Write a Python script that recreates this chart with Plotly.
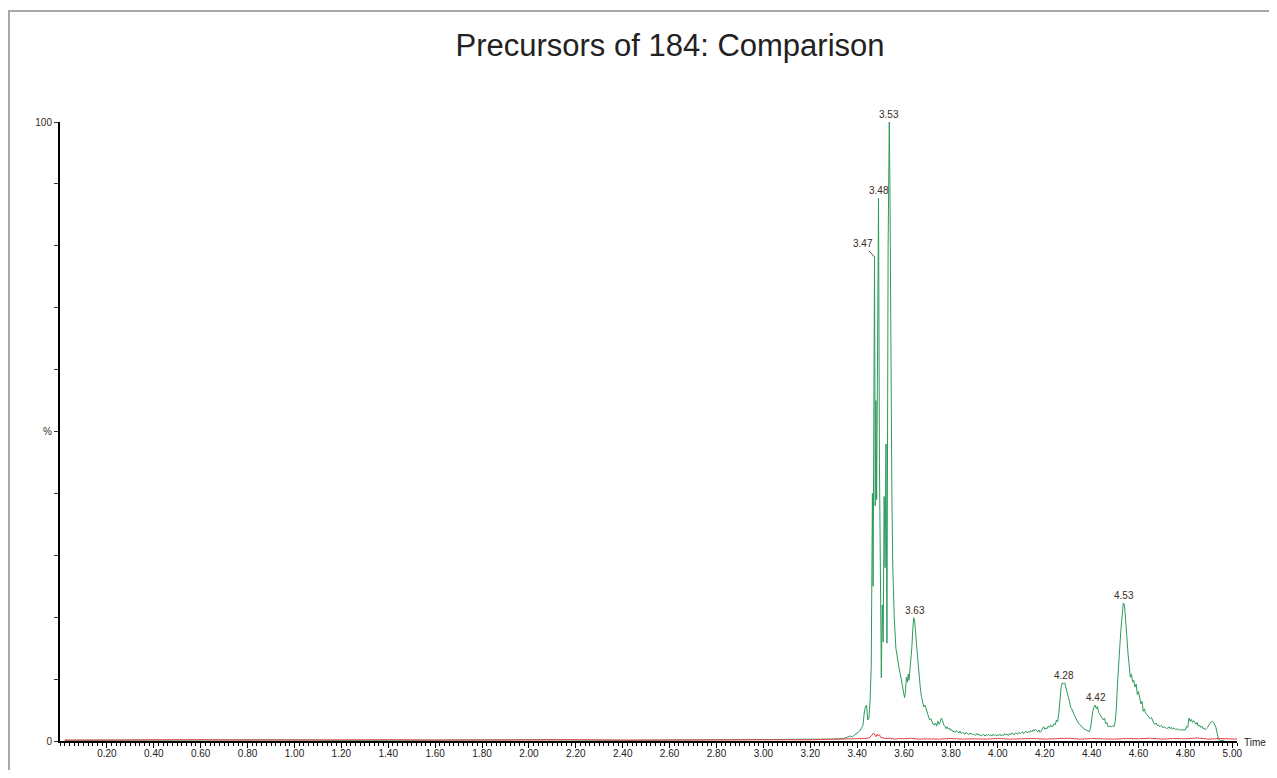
import plotly.graph_objects as go

# ---------------- data ----------------
green_time = [
    0.02, 0.30, 0.60, 0.90, 1.20, 1.50, 1.80, 2.10, 2.40, 2.70, 3.00, 3.10, 3.20, 3.25,
    3.30, 3.31, 3.32, 3.33, 3.34, 3.35, 3.36, 3.37, 3.38, 3.39, 3.40, 3.41, 3.42, 3.425,
    3.43, 3.435, 3.44, 3.445, 3.45, 3.455, 3.46, 3.465, 3.468, 3.471, 3.474, 3.477, 3.480,
    3.483, 3.487, 3.491, 3.495, 3.499, 3.503, 3.507, 3.511, 3.515, 3.519, 3.523, 3.527,
    3.532, 3.537, 3.540, 3.544, 3.548, 3.552, 3.558, 3.565, 3.572, 3.580, 3.588, 3.595,
    3.602, 3.606, 3.610, 3.614, 3.618, 3.621, 3.625, 3.629, 3.633, 3.637, 3.641, 3.645,
    3.649, 3.654, 3.659, 3.664, 3.669, 3.674, 3.679, 3.684, 3.689, 3.694, 3.699, 3.704,
    3.709, 3.714, 3.719, 3.724, 3.729, 3.734, 3.739, 3.744, 3.749, 3.754, 3.759, 3.764,
    3.769, 3.774, 3.779, 3.784, 3.789, 3.794, 3.799, 3.804, 3.809, 3.814, 3.819, 3.824,
    3.829, 3.834, 3.839, 3.844, 3.849, 3.854, 3.86, 3.865, 3.87, 3.875, 3.88, 3.885, 3.89,
    3.895, 3.90, 3.905, 3.91, 3.915, 3.92, 3.925, 3.93, 3.935, 3.94, 3.945, 3.95, 3.955,
    3.96, 3.965, 3.97, 3.975, 3.98, 3.985, 3.99, 3.995, 4.00, 4.005, 4.01, 4.015, 4.02,
    4.025, 4.03, 4.035, 4.04, 4.045, 4.05, 4.055, 4.06, 4.065, 4.07, 4.075, 4.08, 4.085,
    4.09, 4.095, 4.10, 4.105, 4.11, 4.115, 4.12, 4.125, 4.13, 4.135, 4.14, 4.145, 4.15,
    4.155, 4.16, 4.165, 4.17, 4.175, 4.18, 4.185, 4.19, 4.195, 4.20, 4.205, 4.21, 4.215,
    4.22, 4.225, 4.23, 4.235, 4.24, 4.245, 4.25, 4.255, 4.26, 4.265, 4.27, 4.275, 4.28,
    4.285, 4.29, 4.295, 4.30, 4.305, 4.31, 4.315, 4.32, 4.325, 4.33, 4.335, 4.34, 4.345,
    4.35, 4.355, 4.36, 4.365, 4.37, 4.375, 4.38, 4.385, 4.39, 4.395, 4.40, 4.405, 4.41,
    4.415, 4.42, 4.425, 4.43, 4.435, 4.44, 4.445, 4.45, 4.455, 4.46, 4.465, 4.47, 4.475,
    4.48, 4.485, 4.49, 4.495, 4.50, 4.505, 4.51, 4.515, 4.52, 4.525, 4.53, 4.535, 4.54,
    4.545, 4.55, 4.555, 4.56, 4.565, 4.57, 4.575, 4.58, 4.585, 4.59, 4.595, 4.60, 4.605,
    4.61, 4.615, 4.62, 4.625, 4.63, 4.635, 4.64, 4.645, 4.65, 4.655, 4.66, 4.665, 4.67,
    4.675, 4.68, 4.685, 4.69, 4.695, 4.70, 4.705, 4.71, 4.715, 4.72, 4.725, 4.73, 4.735,
    4.74, 4.745, 4.75, 4.755, 4.76, 4.765, 4.77, 4.775, 4.78, 4.785, 4.79, 4.795, 4.80,
    4.805, 4.81, 4.815, 4.82, 4.825, 4.83, 4.835, 4.84, 4.845, 4.85, 4.855, 4.86, 4.865,
    4.87, 4.875, 4.88, 4.885, 4.89, 4.895, 4.90, 4.905, 4.91, 4.915, 4.92, 4.925, 4.93,
    4.935, 4.94, 4.945, 4.95, 4.955, 4.96, 4.965, 4.97, 4.98, 4.99, 5.00,
]
green_pct = [
    0.1, 0.15, 0.1, 0.2, 0.1, 0.15, 0.1, 0.2, 0.1, 0.15, 0.2, 0.15, 0.25, 0.2,
    0.3, 0.35, 0.3, 0.45, 0.35, 0.5, 0.6, 0.8, 0.7, 1.0, 1.3, 1.6, 2.2, 2.6,
    4.5, 5.5, 5.8, 3.4, 3.6, 6.5, 12.0, 40.0, 25.0, 72.0, 78.2, 38.0, 55.0,
    39.0, 60.0, 87.7, 45.0, 18.0, 10.2, 22.0, 16.0, 39.5, 28.0, 48.0, 15.8,
    80.0, 100.0, 88.0, 60.0, 40.0, 28.0, 20.0, 15.0, 13.0, 11.5, 10.0, 8.5,
    7.0, 8.0, 10.3, 9.5, 10.8, 9.8, 11.5, 12.0, 15.0, 18.0, 19.9, 19.5,
    18.0, 15.2, 13.0, 10.5, 8.7, 7.2, 6.0, 5.5, 5.8, 5.2, 4.4, 3.9,
    3.4, 3.6, 3.0, 2.7, 2.6, 2.9, 2.4, 3.2, 2.7, 3.0, 3.7, 3.3,
    2.6, 2.4, 2.0, 2.3, 1.9, 2.1, 1.7, 1.8, 1.5, 1.6, 1.4, 1.7,
    1.5, 1.3, 1.6, 1.2, 1.4, 1.3, 1.1, 1.4, 1.2, 1.0, 1.3, 1.1, 1.2,
    1.0, 1.1, 0.9, 1.2, 1.0, 1.1, 0.8, 1.0, 0.9, 1.1, 0.8, 1.0, 0.9,
    1.1, 0.9, 1.0, 0.8, 1.1, 0.9, 1.0, 0.8, 1.0, 0.9, 1.1, 0.8, 1.0,
    0.9, 1.2, 1.0, 1.1, 0.9, 1.2, 1.0, 1.3, 1.1, 1.0, 1.3, 1.2, 1.1,
    1.4, 1.2, 1.3, 1.5, 1.2, 1.4, 1.6, 1.3, 1.5, 1.4, 1.7, 1.5, 1.8,
    1.6, 1.9, 1.7, 1.5, 1.8, 1.4, 1.6, 2.0, 2.3, 1.9, 2.1, 2.0, 2.4,
    2.2, 2.6, 2.3, 2.4, 2.8, 2.6, 3.4, 3.1, 4.5, 7.0, 8.7, 9.4, 9.2,
    9.4, 8.5, 7.8, 7.2, 6.5, 5.5, 5.2, 4.6, 4.3, 3.9, 3.5, 3.2, 2.8,
    2.6, 2.5, 2.3, 2.0, 1.9, 1.8, 1.7, 1.6, 1.5, 2.0, 3.9, 4.8, 5.5,
    5.8, 5.2, 5.6, 4.6, 4.2, 4.0, 3.7, 3.4, 3.7, 2.8, 3.0, 2.3, 2.4,
    2.4, 2.3, 2.5, 2.3, 3.0, 5.0, 9.0, 13.0, 15.2, 18.0, 20.5, 22.3, 22.0,
    20.0, 17.0, 14.2, 12.5, 10.3, 10.8, 9.5, 9.8, 8.7, 9.2, 7.5, 8.0, 6.6,
    6.0, 6.4, 4.8, 5.2, 4.5, 4.3, 4.0, 3.7, 3.6, 3.8, 3.2, 2.9, 2.7,
    2.9, 2.5, 2.6, 2.3, 2.5, 2.4, 2.1, 2.3, 2.2, 2.0, 2.1, 2.3, 2.0,
    2.2, 1.9, 2.1, 2.0, 1.8, 2.0, 1.8, 1.9, 1.7, 1.8, 1.8, 1.7, 1.8,
    2.4, 2.2, 3.7, 3.2, 3.5, 3.0, 3.3, 2.9, 2.7, 3.0, 2.4, 2.6, 2.2,
    2.4, 2.0, 2.1, 1.8, 2.0, 2.2, 2.6, 2.9, 3.1, 3.2, 3.0, 2.6, 2.2,
    1.3, 0.4, 0.1, 0.1, 0.1, 0.1, 0.1,
]

red_time = [
    0.02, 0.20, 0.40, 0.60, 0.80, 1.00, 1.20, 1.40, 1.60, 1.80, 2.00, 2.20, 2.40, 2.60,
    2.80, 3.00, 3.20, 3.30, 3.35, 3.40, 3.43, 3.45, 3.46, 3.47, 3.475, 3.48, 3.485, 3.49,
    3.495, 3.50, 3.51, 3.52, 3.54, 3.56, 3.58, 3.60, 3.63, 3.66, 3.70, 3.75, 3.80, 3.85,
    3.90, 3.95, 4.00, 4.05, 4.10, 4.15, 4.20, 4.25, 4.30, 4.35, 4.40, 4.45, 4.50, 4.55,
    4.60, 4.65, 4.70, 4.75, 4.80, 4.85, 4.90, 4.95, 5.00, 5.02,
]
red_pct = [
    0.15, 0.2, 0.15, 0.2, 0.15, 0.2, 0.15, 0.2, 0.15, 0.2, 0.15, 0.2, 0.15, 0.2,
    0.15, 0.2, 0.2, 0.25, 0.3, 0.3, 0.4, 0.5, 0.8, 1.3, 0.9, 0.7, 1.1, 0.8,
    1.0, 0.6, 0.5, 0.4, 0.45, 0.3, 0.4, 0.35, 0.45, 0.3, 0.35, 0.3, 0.4, 0.3,
    0.35, 0.3, 0.4, 0.3, 0.35, 0.4, 0.3, 0.35, 0.45, 0.3, 0.4, 0.35, 0.3, 0.4,
    0.35, 0.45, 0.3, 0.4, 0.35, 0.5, 0.3, 0.4, 0.35, 0.3,
]

peak_labels = ["3.47", "3.48", "3.53", "3.63", "4.28", "4.42", "4.53"]
peak_times = [3.474, 3.491, 3.537, 3.645, 4.282, 4.418, 4.537]
peak_pcts = [78.2, 87.7, 100.0, 19.9, 9.4, 5.8, 22.3]

x_tick_vals = [0.20, 0.40, 0.60, 0.80, 1.00, 1.20, 1.40, 1.60, 1.80, 2.00, 2.20, 2.40,
               2.60, 2.80, 3.00, 3.20, 3.40, 3.60, 3.80, 4.00, 4.20, 4.40, 4.60, 4.80, 5.00]
x_tick_text = ["0.20", "0.40", "0.60", "0.80", "1.00", "1.20", "1.40", "1.60", "1.80",
               "2.00", "2.20", "2.40", "2.60", "2.80", "3.00", "3.20", "3.40", "3.60",
               "3.80", "4.00", "4.20", "4.40", "4.60", "4.80", "5.00"]
y_tick_vals = [0, 10, 20, 30, 40, 50, 60, 70, 80, 90, 100]
y_tick_text = ["0", "", "", "", "", "%", "", "", "", "", "100"]

# ---------------- layout geometry ----------------
# the page adds an 8px body margin, so the figure is sized to fit inside it
OFF = 8
W, H = 1277 - 2 * OFF, 778 - 2 * OFF
ML = 60 - OFF
MT = 122 - OFF
MB = H - (741 - OFF)
MR = W - (1237 - OFF)
PW, PH = W - ML - MR, H - MT - MB
FONT = "Liberation Sans, Arial, sans-serif"


def px_to_paper_x(px):
    return (px - OFF - ML) / PW


def py_to_paper_y(py):
    return (H - MB - (py - OFF)) / PH


fig = go.Figure()
fig.add_trace(go.Scatter(x=green_time, y=green_pct, mode="lines",
                         line=dict(color="#2e9a5c", width=1), hoverinfo="skip"))
fig.add_trace(go.Scatter(x=red_time, y=red_pct, mode="lines",
                         line=dict(color="#e8414a", width=1), hoverinfo="skip"))

annotations = []
for lab, t, p in zip(peak_labels, peak_times, peak_pcts):
    if lab == "3.47":
        annotations.append(dict(x=t, y=p, xref="x", yref="y", text=lab, showarrow=True,
                                arrowhead=0, arrowwidth=1, arrowcolor="#444", ax=-12,
                                ay=-13, standoff=0,
                                font=dict(family=FONT, size=10, color="#3a2a20")))
    else:
        annotations.append(dict(x=t, y=p, xref="x", yref="y", text=lab, showarrow=False,
                                yanchor="bottom", yshift=0,
                                font=dict(family=FONT, size=10, color="#3a2a20")))

annotations.append(dict(x=px_to_paper_x(1242), y=py_to_paper_y(743), xref="paper",
                        yref="paper", text="Time", showarrow=False, xanchor="left",
                        yanchor="middle", font=dict(family=FONT, size=10, color="#222")))

shapes = [
    dict(type="line", xref="paper", yref="paper",
         x0=px_to_paper_x(8), x1=px_to_paper_x(1290),
         y0=py_to_paper_y(11), y1=py_to_paper_y(11),
         line=dict(color="#a8a8a8", width=2)),
    dict(type="line", xref="paper", yref="paper",
         x0=px_to_paper_x(9), x1=px_to_paper_x(9),
         y0=py_to_paper_y(11), y1=py_to_paper_y(790),
         line=dict(color="#a8a8a8", width=2)),
]

fig.update_layout(
    width=W, height=H,
    autosize=False,
    margin=dict(l=ML, r=MR, t=MT, b=MB, pad=0, autoexpand=False),
    paper_bgcolor="white", plot_bgcolor="white",
    showlegend=False,
    title=dict(text="Precursors of 184: Comparison", x=(670 - OFF) / W, xref="container",
               xanchor="center", y=1 - (45 - OFF) / H, yref="container", yanchor="middle",
               automargin=False, font=dict(family=FONT, size=31, color="#222")),
    annotations=annotations,
    shapes=shapes,
    xaxis=dict(range=[0, 5.02], automargin=False, showgrid=False, zeroline=False,
               showline=True, linecolor="black", linewidth=1.5, layer="below traces",
               tickmode="array", tickvals=x_tick_vals, ticktext=x_tick_text,
               ticks="outside", ticklen=5, tickcolor="black", tickwidth=1,
               ticklabelstandoff=-3,
               tickfont=dict(family=FONT, size=10, color="#222"),
               minor=dict(tickmode="linear", tick0=0, dtick=0.02, ticks="outside",
                          ticklen=3, tickcolor="black", tickwidth=1, showgrid=False)),
    yaxis=dict(range=[0, 100], automargin=False, showgrid=False, zeroline=False,
               showline=True, linecolor="black", linewidth=2, layer="below traces",
               tickmode="array", tickvals=y_tick_vals, ticktext=y_tick_text,
               ticks="outside", ticklen=4, tickcolor="#333", tickwidth=1,
               tickfont=dict(family=FONT, size=10, color="#3a2a20")),
)

fig.write_html("out.html")
